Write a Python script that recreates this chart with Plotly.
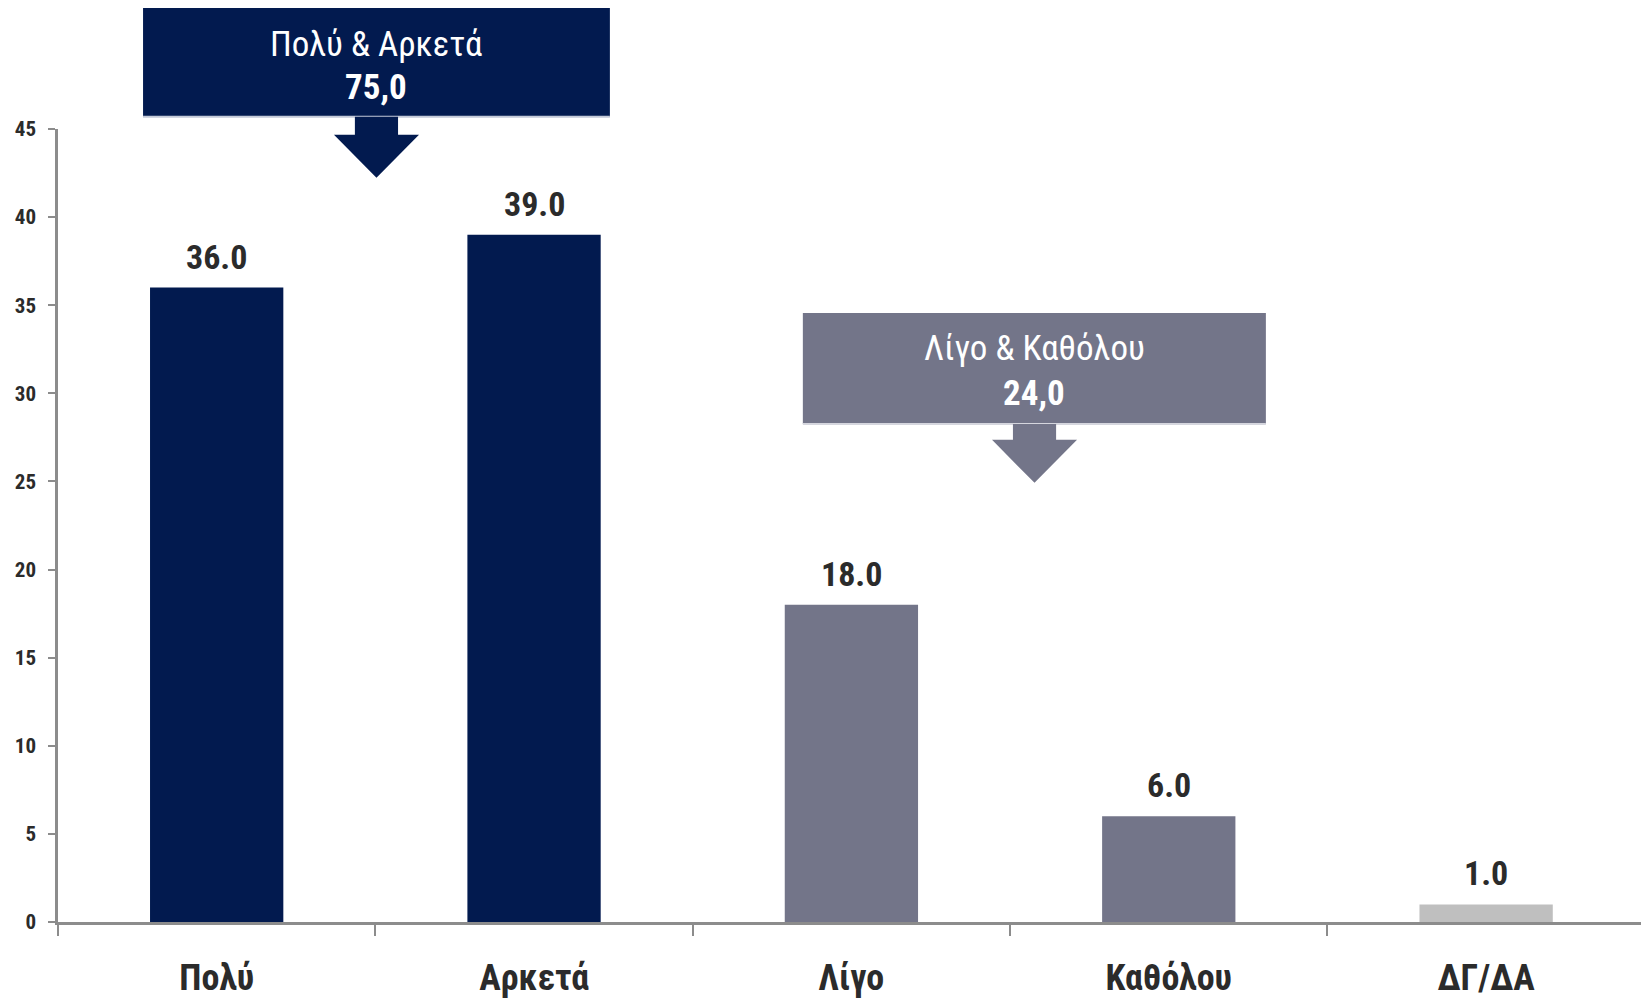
import plotly.graph_objects as go

# ---- data ----
categories = ["Πολύ", "Αρκετά", "Λίγο", "Καθόλου", "ΔΓ/ΔΑ"]
values = [36.0, 39.0, 18.0, 6.0, 1.0]
group_labels = ["Πολύ & Αρκετά", "Λίγο & Καθόλου"]
group_totals = [75.0, 24.0]
y_ticks = [0, 5, 10, 15, 20, 25, 30, 35, 40, 45]

# ---- styles ----
NAVY = "#021A4F"
GREY = "#737589"
LIGHT = "#BFBFBF"
bar_colors = [NAVY, NAVY, GREY, GREY, LIGHT]
box_colors = [NAVY, GREY]
box_edge = ["#C3C9D8", "#D5D6DE"]
AXIS = "#8C8C8C"
TXT = "#2B2B2B"
FONT = "Roboto Condensed, Liberation Sans Narrow, Arial Narrow, sans-serif"
Y_MAX = 45.0
X_RANGE = [-0.5, 4.488]

# callout geometry (category units for x, value units for y)
boxes = [
    dict(x0=-0.232, x1=1.239, ytop=51.87, ybot=45.69, cx=0.5035,
         shaft_bot=44.67, tip=42.23, l1=49.82, l2=47.33),
    dict(x0=1.847, x1=3.306, ytop=34.56, ybot=28.26, cx=2.577,
         shaft_bot=27.36, tip=24.92, l1=32.57, l2=29.99),
]
SHAFT_HW = 0.068
HEAD_HW = 0.134


def py(v):
    return v / Y_MAX


fig = go.Figure()
fig.add_trace(go.Bar(
    x=categories, y=values, marker=dict(color=bar_colors, line=dict(width=0)),
    width=0.42, hoverinfo="skip", showlegend=False,
))

annotations = []
for c, v in zip(categories, values):
    annotations.append(dict(
        x=c, y=v, xref="x", yref="y", text=f"{v:.1f}", showarrow=False,
        yanchor="bottom", yshift=9,
        font=dict(family=FONT, size=34, color=TXT, weight="bold"),
    ))

shapes = []
for b, lab, tot, col, edge in zip(boxes, group_labels, group_totals, box_colors, box_edge):
    shapes.append(dict(type="rect", xref="x", yref="paper", x0=b["x0"], x1=b["x1"],
                       y0=py(b["ybot"]), y1=py(b["ytop"]), fillcolor=col,
                       line=dict(width=0), layer="above"))
    shapes.append(dict(type="line", xref="x", yref="paper", x0=b["x0"], x1=b["x1"],
                       y0=py(b["ybot"]), y1=py(b["ybot"]), line=dict(color=edge, width=2),
                       layer="above"))
    cx = b["cx"]
    yb, ys, yt = py(b["ybot"]), py(b["shaft_bot"]), py(b["tip"])
    path = (f"M {cx - SHAFT_HW} {yb} L {cx + SHAFT_HW} {yb} L {cx + SHAFT_HW} {ys} "
            f"L {cx + HEAD_HW} {ys} L {cx} {yt} L {cx - HEAD_HW} {ys} "
            f"L {cx - SHAFT_HW} {ys} Z")
    shapes.append(dict(type="path", xref="x", yref="paper", path=path, fillcolor=col,
                       line=dict(width=0), layer="above"))
    annotations.append(dict(x=(b["x0"] + b["x1"]) / 2, y=py(b["l1"]), xref="x", yref="paper",
                            text=lab, showarrow=False, yanchor="middle",
                            font=dict(family=FONT, size=35, color="white")))
    annotations.append(dict(x=(b["x0"] + b["x1"]) / 2, y=py(b["l2"]), xref="x", yref="paper",
                            text=f"{tot:.1f}".replace(".", ","), showarrow=False,
                            yanchor="middle",
                            font=dict(family=FONT, size=35, color="white", weight="bold")))

fig.update_layout(
    width=1641, height=998,
    margin=dict(l=58, r=0, t=129, b=76),
    paper_bgcolor="white", plot_bgcolor="white",
    shapes=shapes, annotations=annotations,
    xaxis=dict(
        type="category", range=X_RANGE, tickson="boundaries",
        ticks="outside", ticklen=11, tickwidth=2, tickcolor=AXIS,
        showline=True, linecolor=AXIS, linewidth=2.5, showgrid=False,
        tickfont=dict(family=FONT, size=36, color=TXT, weight="bold"),
        ticklabelstandoff=22,
    ),
    yaxis=dict(
        range=[0, Y_MAX], tickvals=y_ticks, ticks="outside", ticklen=7, tickwidth=2,
        tickcolor=AXIS, showline=True, linecolor=AXIS, linewidth=2.5, showgrid=False,
        zeroline=False, tickfont=dict(family=FONT, size=21, color=TXT, weight="bold"),
        ticklabelstandoff=8,
    ),
)

fig.write_html("out.html", config={"displayModeBar": False},
               post_script="document.body.style.margin='0';document.body.style.overflow='hidden';")
